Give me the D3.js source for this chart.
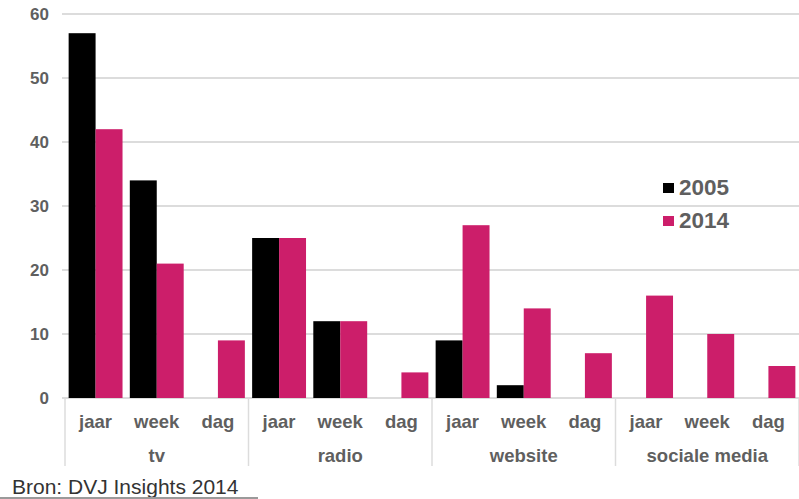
<!DOCTYPE html>
<html>
<head>
<meta charset="utf-8">
<script src="https://cdn.jsdelivr.net/npm/d3@7"></script>
<style>
  html, body { margin: 0; padding: 0; background: #fff; }
  svg { display: block; }
</style>
</head>
<body>
<svg id="chart" width="799" height="499"></svg>
<script>
// Media groups and the period within each group
const groups = ["tv", "radio", "website", "sociale media"];
const periods = ["jaar", "week", "dag"];
const seriesNames = ["2005", "2014"];
// Values per group, in the order jaar, week, dag (null = no bar)
const values2005 = [[57, 34, null], [25, 12, null], [9, 2, null], [null, null, null]];
const values2014 = [[42, 21, 9], [25, 12, 4], [27, 14, 7], [16, 10, 5]];
const yTicks = [0, 10, 20, 30, 40, 50, 60];
const colors = ["#000000", "#cc1e6a"];

(function () {
const svg = d3.select("#chart");
const textColor = "#5f5f5f";
const font = "'Liberation Sans', Arial, sans-serif";

const plotLeft = 65, plotRight = 799, plotTop = 14, plotBottom = 398;

const y = d3.scaleLinear().domain([0, 60]).range([plotBottom, plotTop]);
const xGroup = d3.scaleBand().domain(groups).range([plotLeft, plotRight]).padding(0);
const xPeriod = d3.scaleBand().domain(periods).range([0, xGroup.bandwidth()]).padding(0);
const xSeries = d3.scaleBand().domain(seriesNames).range([0, xPeriod.bandwidth()]).paddingInner(0).paddingOuter(0.135);

// Horizontal gridlines
svg.append("g")
  .selectAll("line")
  .data(yTicks)
  .join("line")
  .attr("x1", 62).attr("x2", plotRight)
  .attr("y1", d => y(d)).attr("y2", d => y(d))
  .attr("stroke", "#dcdcdc")
  .attr("stroke-width", 2);

// Y axis labels
const yAxis = svg.append("g")
  .attr("transform", `translate(49,0)`)
  .call(d3.axisLeft(y).tickValues(yTicks).tickSize(0).tickPadding(0));
yAxis.select(".domain").remove();
yAxis.selectAll("text")
  .attr("fill", textColor)
  .attr("font-family", font)
  .attr("font-weight", "bold")
  .attr("font-size", 17);

// Bars
const barData = [];
groups.forEach((g, gi) => {
  periods.forEach((p, pi) => {
    [values2005, values2014].forEach((vals, si) => {
      const v = vals[gi][pi];
      if (v !== null) barData.push({ group: g, period: p, series: seriesNames[si], value: v, si });
    });
  });
});

svg.append("g")
  .selectAll("rect")
  .data(barData)
  .join("rect")
  .attr("x", d => xGroup(d.group) + xPeriod(d.period) + xSeries(d.series))
  .attr("width", xSeries.bandwidth())
  .attr("y", d => y(d.value))
  .attr("height", d => y(0) - y(d.value))
  .attr("fill", d => colors[d.si]);

// Group separators below the baseline
svg.append("g")
  .selectAll("line")
  .data(groups.map(g => xGroup(g)).concat([plotRight]))
  .join("line")
  .attr("x1", d => d).attr("x2", d => d)
  .attr("y1", plotBottom).attr("y2", 466)
  .attr("stroke", "#dcdcdc")
  .attr("stroke-width", 1.5);

// Period labels
const periodLabels = [];
groups.forEach(g => periods.forEach(p => periodLabels.push({ g, p })));
svg.append("g")
  .selectAll("text")
  .data(periodLabels)
  .join("text")
  .attr("x", d => xGroup(d.g) + xPeriod(d.p) + xPeriod.bandwidth() / 2)
  .attr("y", 428)
  .attr("text-anchor", "middle")
  .attr("fill", textColor)
  .attr("font-family", font)
  .attr("font-weight", "bold")
  .attr("font-size", 18.5)
  .text(d => d.p);

// Group labels
svg.append("g")
  .selectAll("text")
  .data(groups)
  .join("text")
  .attr("x", d => xGroup(d) + xGroup.bandwidth() / 2)
  .attr("y", 462)
  .attr("text-anchor", "middle")
  .attr("fill", textColor)
  .attr("font-family", font)
  .attr("font-weight", "bold")
  .attr("font-size", 18.5)
  .text(d => d);

// Legend
const legend = svg.append("g")
  .selectAll("g")
  .data(seriesNames)
  .join("g")
  .attr("transform", (d, i) => `translate(663,${195 + i * 33})`);
legend.append("rect")
  .attr("x", 0).attr("y", -12)
  .attr("width", 11).attr("height", 10)
  .attr("fill", (d, i) => colors[i]);
legend.append("text")
  .attr("x", 16).attr("y", 0)
  .attr("fill", textColor)
  .attr("font-family", font)
  .attr("font-weight", "bold")
  .attr("font-size", 22.5)
  .text(d => d);

// Source note
svg.append("text")
  .attr("x", 12).attr("y", 494)
  .attr("fill", "#333")
  .attr("font-family", font)
  .attr("font-size", 21)
  .text("Bron: DVJ Insights 2014");
svg.append("line")
  .attr("x1", 0).attr("x2", 258)
  .attr("y1", 498).attr("y2", 498)
  .attr("stroke", "#9a9a9a")
  .attr("stroke-width", 2);
})();
</script>
</body>
</html>
